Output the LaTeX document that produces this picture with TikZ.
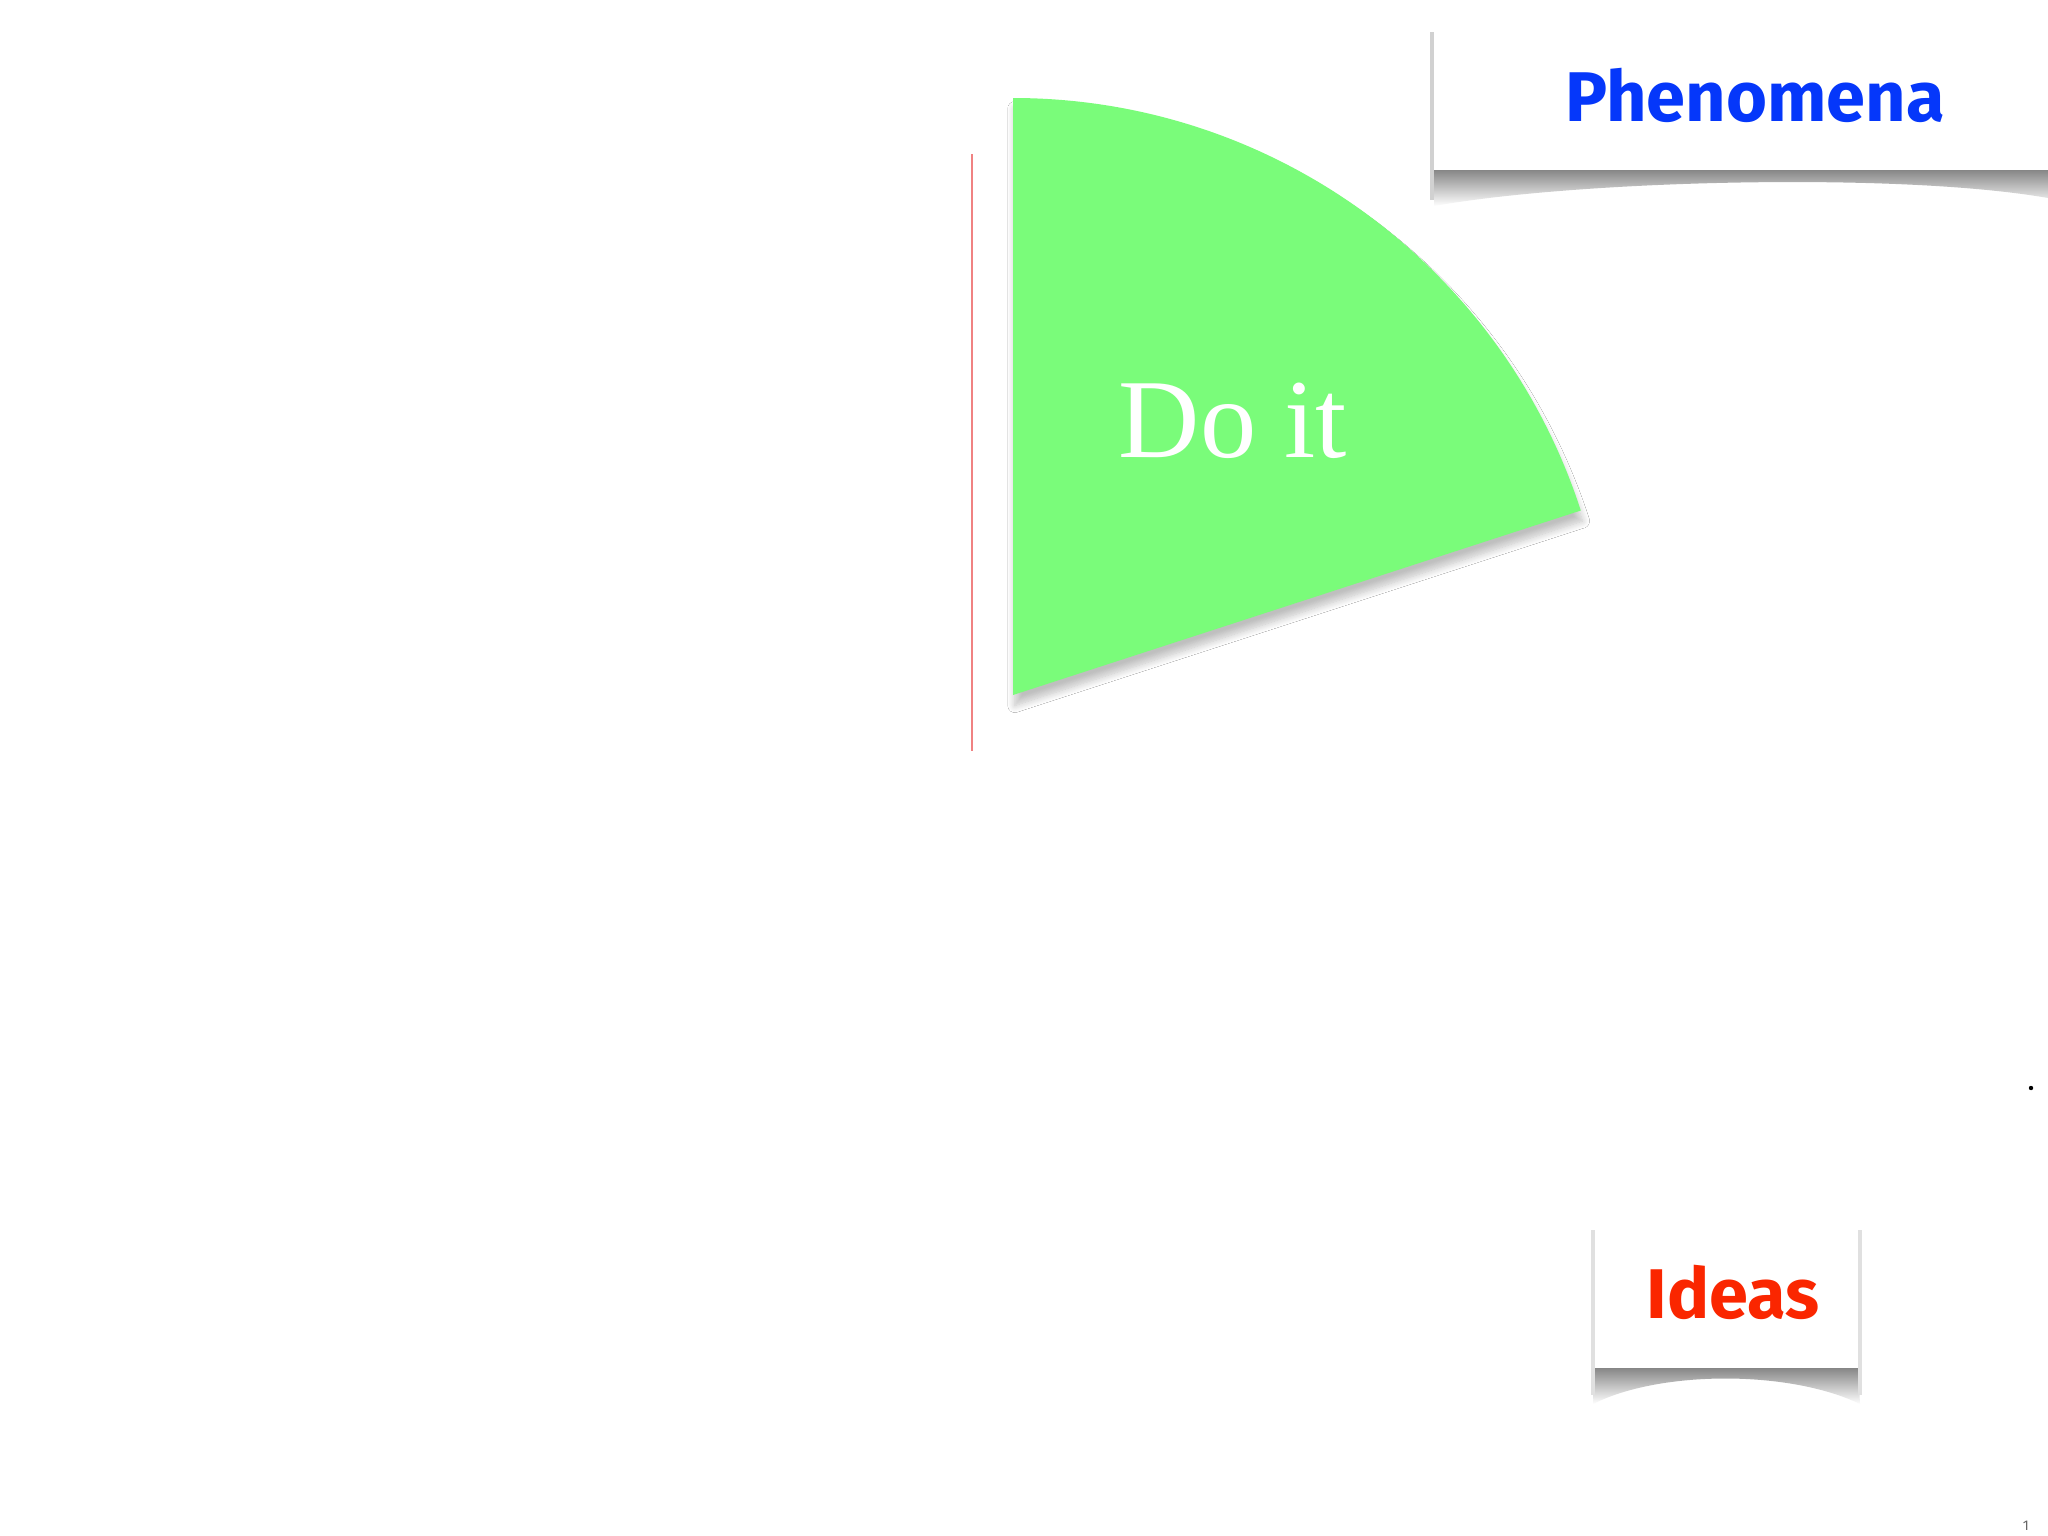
\documentclass[tikz,border=0pt]{standalone}
\usepackage{fontspec}
\setsansfont{Fira Sans}
\newfontfamily\doitfont{Liberation Serif}
\usetikzlibrary{shadows.blur}
\definecolor{wedgegreen}{RGB}{122,252,122}
\definecolor{phenblue}{RGB}{5,55,250}
\definecolor{ideared}{RGB}{250,38,0}
\definecolor{linered}{RGB}{240,130,130}
\tikzset{
  labelbox/.style={fill=white, draw=none, inner sep=0pt},
  shadowshade/.style={top color=black!50, bottom color=white, draw=none},
  boxlabel/.style={font=\sffamily\bfseries\fontsize{20}{24}\selectfont, anchor=base, inner sep=0pt},
}
\begin{document}
\begin{tikzpicture}[x=0.01cm,y=-0.01cm]
\useasboundingbox[fill=white] (0,0) rectangle (2048,1536);

% red vertical line
\coordinate (rtop) at (972,154);
\coordinate (rbot) at (972,751);
\draw[linered, line width=0.5pt] (rtop) -- (rbot);

% green wedge
\coordinate (wc) at (1013,695);
\fill[wedgegreen, blur shadow={shadow xshift=0.5pt, shadow yshift=-3pt, shadow blur steps=10, shadow blur radius=2pt, shadow opacity=25}]
  (wc) -- ++(0,-597) arc[start angle=-90, end angle=-18, radius=597] -- cycle;
\node[font=\doitfont\fontsize{32}{36}\selectfont, text=white, anchor=base, inner sep=0pt] (doit) at (1233,457) {Do it};

% Phenomena box with curled shadow
\shade[shadowshade] (1434,168) -- (1434,206) .. controls (1580,180) and (1900,172) .. (2048,198) -- (2048,168) -- cycle;
\fill[black!18] (1430,32) rectangle (1434,200);
\node[labelbox, minimum width=6.14cm, minimum height=1.41cm] (phenbox) at (1741,99.5) {};
\node[boxlabel, text=phenblue] (phen) at (1755,121) {Phenomena};

% Ideas box with curled shadow
\shade[shadowshade] (1595,1366) -- (1593,1404) .. controls (1660,1370) and (1790,1370) .. (1860,1404) -- (1858,1366) -- cycle;
\fill[black!12] (1591,1230) rectangle (1595,1395);
\fill[black!12] (1858,1230) rectangle (1862,1395);
\node[labelbox, minimum width=2.63cm, minimum height=1.41cm] (ideabox) at (1726.5,1297.5) {};
\node[boxlabel, text=ideared] (ideas) at (1733,1318) {Ideas};

% small dot and page number
\fill[black] (2031,1088) circle[radius=2.2] coordinate (dot);
\node[font=\sffamily\fontsize{4}{5}\selectfont, text=black!60, anchor=base, inner sep=0pt] (pagenum) at (2026,1530) {1};
\end{tikzpicture}
\end{document}
